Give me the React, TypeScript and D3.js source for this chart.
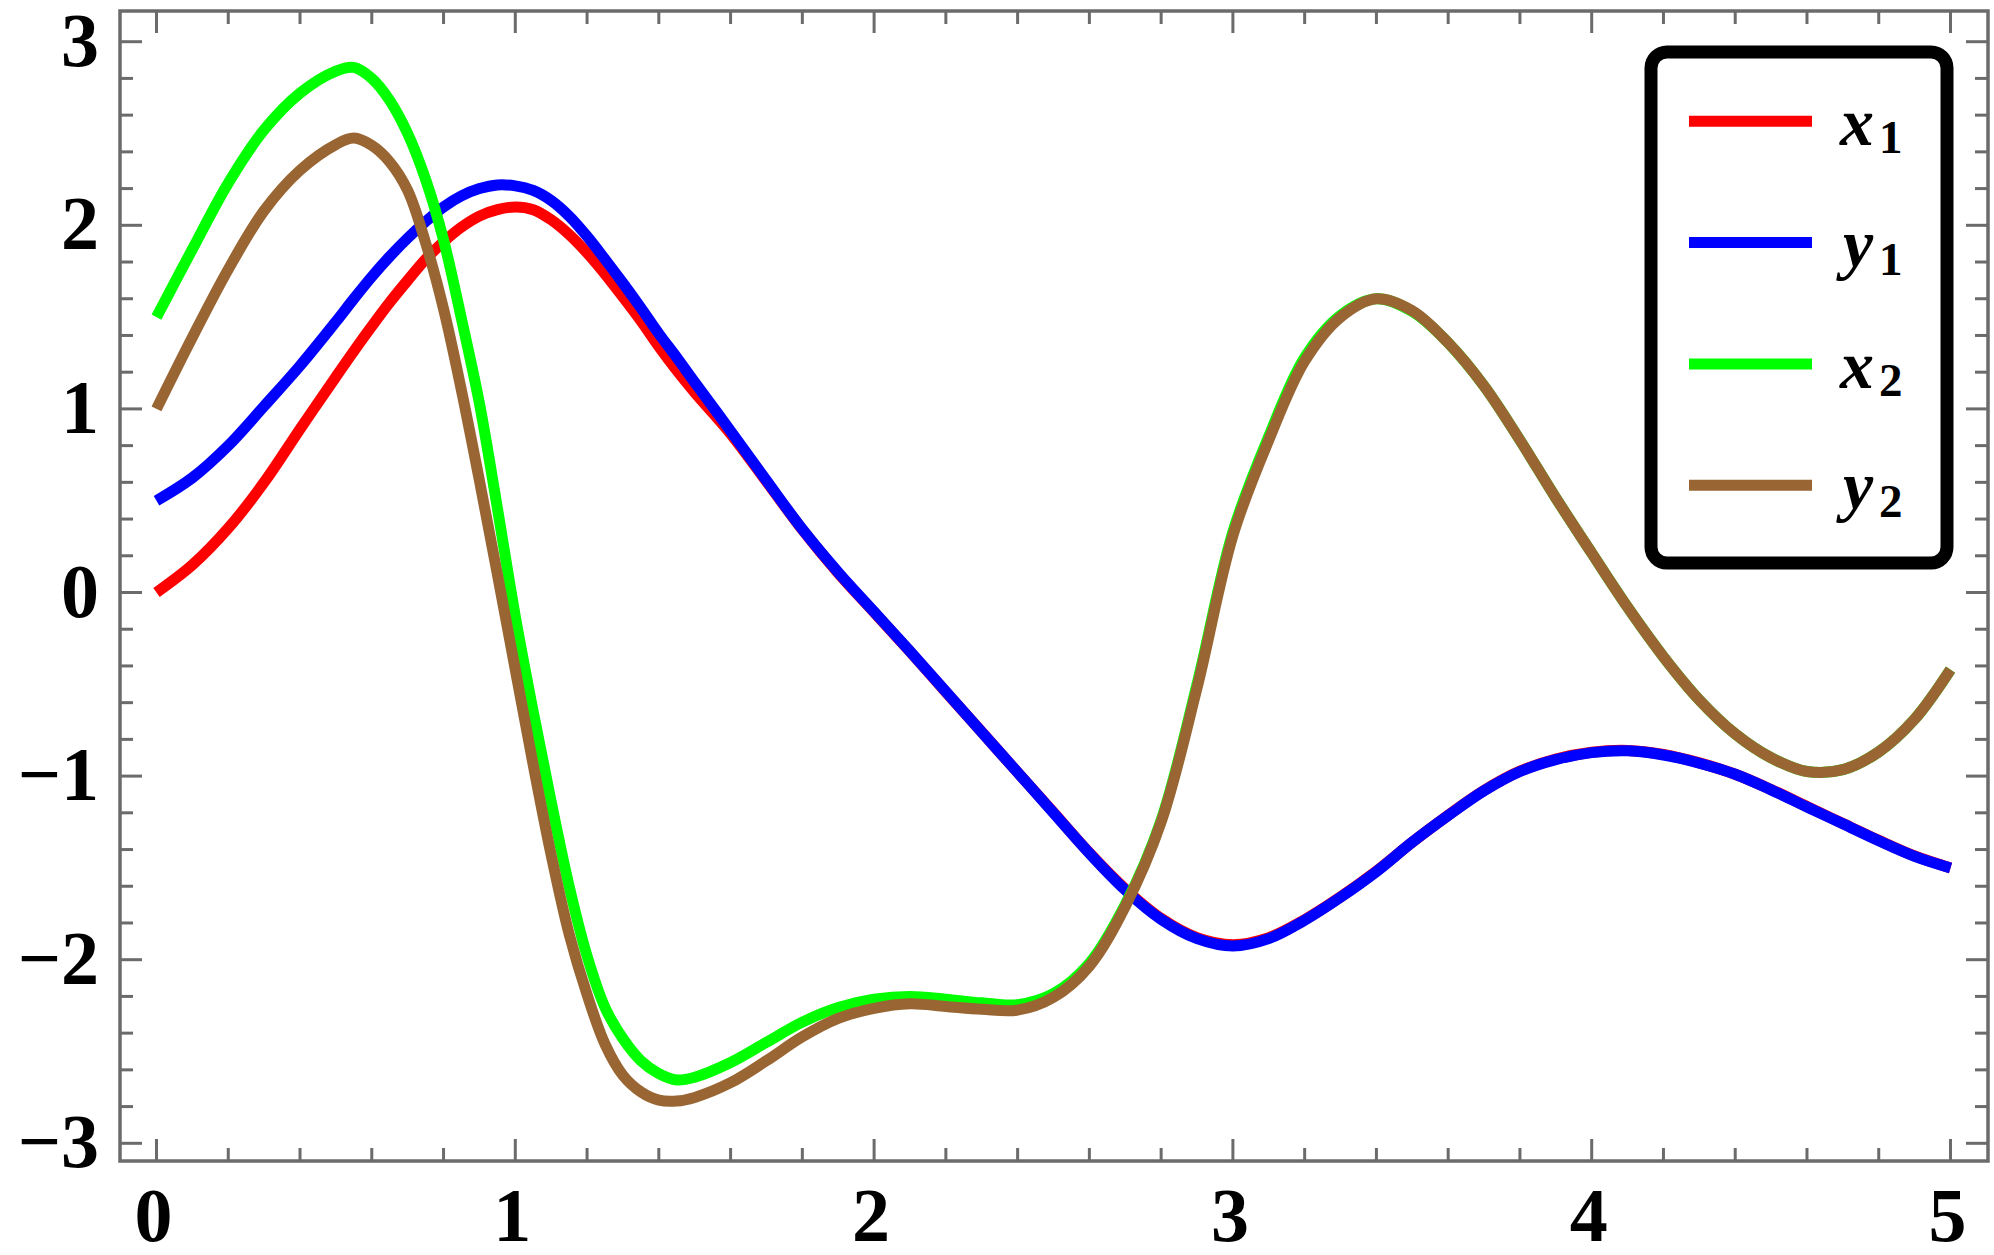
import React, { useEffect, useRef } from "react";
import * as d3 from "d3";

// sample times (finer where the curves turn fast)
const times = [
  0, 0.1, 0.2, 0.3, 0.4, 0.5,
  0.55, 0.6, 0.65, 0.7, 0.75, 0.8, 0.85, 0.9, 0.95, 1.0,
  1.05, 1.1, 1.15, 1.2, 1.25, 1.3, 1.35, 1.4, 1.45, 1.5,
  1.6, 1.7, 1.8, 1.9, 2.0, 2.1, 2.2, 2.3, 2.4, 2.5,
  2.6, 2.7, 2.8, 2.9, 3.0, 3.1, 3.2, 3.3, 3.4, 3.5,
  3.6, 3.7, 3.8, 3.9, 4.0, 4.1, 4.2, 4.3, 4.4, 4.5,
  4.6, 4.7, 4.8, 4.9, 5.0,
];

const x1 = [
  0, 0.15, 0.35, 0.6, 0.89, 1.175,
  1.315, 1.45, 1.58, 1.7, 1.815, 1.91, 1.99, 2.05, 2.085, 2.1,
  2.085, 2.03, 1.95, 1.85, 1.735, 1.61, 1.48, 1.34, 1.21, 1.09,
  0.865, 0.605, 0.342, 0.105, -0.108, -0.322, -0.542, -0.76, -0.98, -1.198,
  -1.418, -1.615, -1.775, -1.88, -1.918, -1.88, -1.782, -1.658, -1.518, -1.36,
  -1.213, -1.078, -0.973, -0.907, -0.87, -0.86, -0.882, -0.928, -0.99, -1.073,
  -1.166, -1.258, -1.35, -1.435, -1.5,
];

const y1 = [
  0.5, 0.625, 0.8, 1.015, 1.235, 1.475,
  1.6, 1.72, 1.83, 1.93, 2.02, 2.1, 2.16, 2.2, 2.22, 2.215,
  2.19, 2.135, 2.05, 1.94, 1.815, 1.685, 1.55, 1.41, 1.28, 1.145,
  0.88, 0.61, 0.345, 0.11, -0.105, -0.32, -0.54, -0.76, -0.98, -1.2,
  -1.42, -1.62, -1.78, -1.885, -1.925, -1.885, -1.785, -1.66, -1.52, -1.36,
  -1.215, -1.08, -0.975, -0.91, -0.872, -0.862, -0.885, -0.93, -0.99, -1.075,
  -1.168, -1.26, -1.352, -1.437, -1.5,
];

const x2 = [
  1.5, 1.87, 2.23, 2.52, 2.72, 2.84,
  2.86, 2.8, 2.68, 2.5, 2.25, 1.92, 1.49, 1.03, 0.46, -0.13,
  -0.65, -1.14, -1.6, -1.98, -2.26, -2.43, -2.55, -2.62, -2.655, -2.64,
  -2.56, -2.45, -2.34, -2.26, -2.215, -2.2, -2.215, -2.235, -2.245, -2.185,
  -2.02, -1.7, -1.24, -0.5, 0.33, 0.85, 1.28, 1.51, 1.6, 1.53,
  1.36, 1.125, 0.83, 0.515, 0.215, -0.08, -0.35, -0.585, -0.77, -0.9,
  -0.975, -0.965, -0.868, -0.69, -0.42,
];

const y2 = [
  1.0, 1.39, 1.76, 2.08, 2.3, 2.44,
  2.475, 2.435, 2.345, 2.19, 1.905, 1.545, 1.1, 0.61, 0.1, -0.42,
  -0.94, -1.43, -1.86, -2.19, -2.46, -2.63, -2.72, -2.765, -2.77, -2.75,
  -2.67, -2.55, -2.42, -2.32, -2.265, -2.24, -2.255, -2.27, -2.275, -2.205,
  -2.035, -1.71, -1.25, -0.52, 0.31, 0.83, 1.26, 1.5, 1.6, 1.535,
  1.36, 1.125, 0.83, 0.515, 0.215, -0.08, -0.35, -0.585, -0.77, -0.9,
  -0.975, -0.965, -0.868, -0.69, -0.42,
];

const seriesNames = ["x", "y", "x", "y"];
const seriesSubs = ["1", "1", "2", "2"];
const seriesColors = ["#ff0000", "#0000ff", "#00ff00", "#996633"];
const seriesValues = [x1, y1, x2, y2];

const xTicks = [0, 1, 2, 3, 4, 5];
const yTicks = [-3, -2, -1, 0, 1, 2, 3];

const W = 1994;
const H = 1255;
const FONT = "'Liberation Serif', 'Times New Roman', Times, serif";

function App() {
  const ref = useRef<SVGSVGElement | null>(null);

  useEffect(() => {
    const svg = d3.select(ref.current);
    svg.selectAll("*").remove();

    const frame = { left: 120, right: 1988, top: 11, bottom: 1161 };
    const frameColor = "#6b6b6b";

    const xScale = d3.scaleLinear().domain([0, 5]).range([156.5, 1950.5]);
    const yScale = d3.scaleLinear().domain([-3, 3]).range([1143.3, 41.7]);

    // frame
    svg.append("rect")
      .attr("x", frame.left)
      .attr("y", frame.top)
      .attr("width", frame.right - frame.left)
      .attr("height", frame.bottom - frame.top)
      .attr("fill", "white")
      .attr("stroke", frameColor)
      .attr("stroke-width", 3.5);

    // ticks (major + minor every 0.2), on all four sides, pointing inward
    const ticksG = svg.append("g").attr("stroke", frameColor).attr("stroke-width", 3);
    const minorX = d3.range(0, 25 + 1).map(i => i * 0.2);
    minorX.forEach(v => {
      const major = Math.abs(v - Math.round(v)) < 1e-6;
      const len = major ? 22 : 13;
      const px = xScale(v);
      ticksG.append("line").attr("x1", px).attr("x2", px)
        .attr("y1", frame.bottom).attr("y2", frame.bottom - len);
      ticksG.append("line").attr("x1", px).attr("x2", px)
        .attr("y1", frame.top).attr("y2", frame.top + len);
    });
    const minorY = d3.range(0, 30 + 1).map(i => -3 + i * 0.2);
    minorY.forEach(v => {
      const major = Math.abs(v - Math.round(v)) < 1e-6;
      const len = major ? 22 : 13;
      const py = yScale(v);
      ticksG.append("line").attr("y1", py).attr("y2", py)
        .attr("x1", frame.left).attr("x2", frame.left + len);
      ticksG.append("line").attr("y1", py).attr("y2", py)
        .attr("x1", frame.right).attr("x2", frame.right - len);
    });

    // tick labels
    const fmt = (d: number) => (d < 0 ? "\u2212" + Math.abs(d) : String(d));
    svg.append("g").selectAll("text")
      .data(xTicks)
      .enter()
      .append("text")
      .attr("x", d => xScale(d) - 3)
      .attr("y", 1241)
      .attr("text-anchor", "middle")
      .attr("font-family", FONT)
      .attr("font-weight", "bold")
      .attr("font-size", 76)
      .text(fmt);

    svg.append("g").selectAll("text")
      .data(yTicks)
      .enter()
      .append("text")
      .attr("x", 99)
      .attr("y", d => yScale(d) + 24)
      .attr("text-anchor", "end")
      .attr("font-family", FONT)
      .attr("font-weight", "bold")
      .attr("font-size", 76)
      .text(fmt);

    // curves
    const line = d3.line<[number, number]>()
      .x(d => xScale(d[0]))
      .y(d => yScale(d[1]))
      .curve(d3.curveCatmullRom.alpha(0.5));

    seriesValues.forEach((vals, i) => {
      const pts: [number, number][] = times.map((t, k) => [t, vals[k]]);
      svg.append("path")
        .attr("d", line(pts))
        .attr("fill", "none")
        .attr("stroke", seriesColors[i])
        .attr("stroke-width", 11)
        .attr("stroke-linejoin", "round");
    });

    // legend
    const legend = svg.append("g");
    legend.append("rect")
      .attr("x", 1651)
      .attr("y", 52)
      .attr("width", 296)
      .attr("height", 511)
      .attr("rx", 16)
      .attr("fill", "white")
      .attr("stroke", "black")
      .attr("stroke-width", 13);

    seriesColors.forEach((c, i) => {
      const cy = 121.3 + i * 121.3;
      legend.append("line")
        .attr("x1", 1689).attr("x2", 1812)
        .attr("y1", cy).attr("y2", cy)
        .attr("stroke", c)
        .attr("stroke-width", 11);
      legend.append("text")
        .attr("x", seriesNames[i] === "x" ? 1840 : 1843)
        .attr("y", cy + 24)
        .attr("font-family", FONT)
        .attr("font-style", "italic")
        .attr("font-weight", "bold")
        .attr("font-size", 68)
        .text(seriesNames[i]);
      legend.append("text")
        .attr("x", 1879)
        .attr("y", cy + 32)
        .attr("font-family", FONT)
        .attr("font-weight", "bold")
        .attr("font-size", 47)
        .text(seriesSubs[i]);
    });
  }, []);

  return (
    <svg
      ref={ref}
      width={W}
      height={H}
      style={{ position: "absolute", left: 0, top: 0, background: "white" }}
    />
  );
}

export default App;
